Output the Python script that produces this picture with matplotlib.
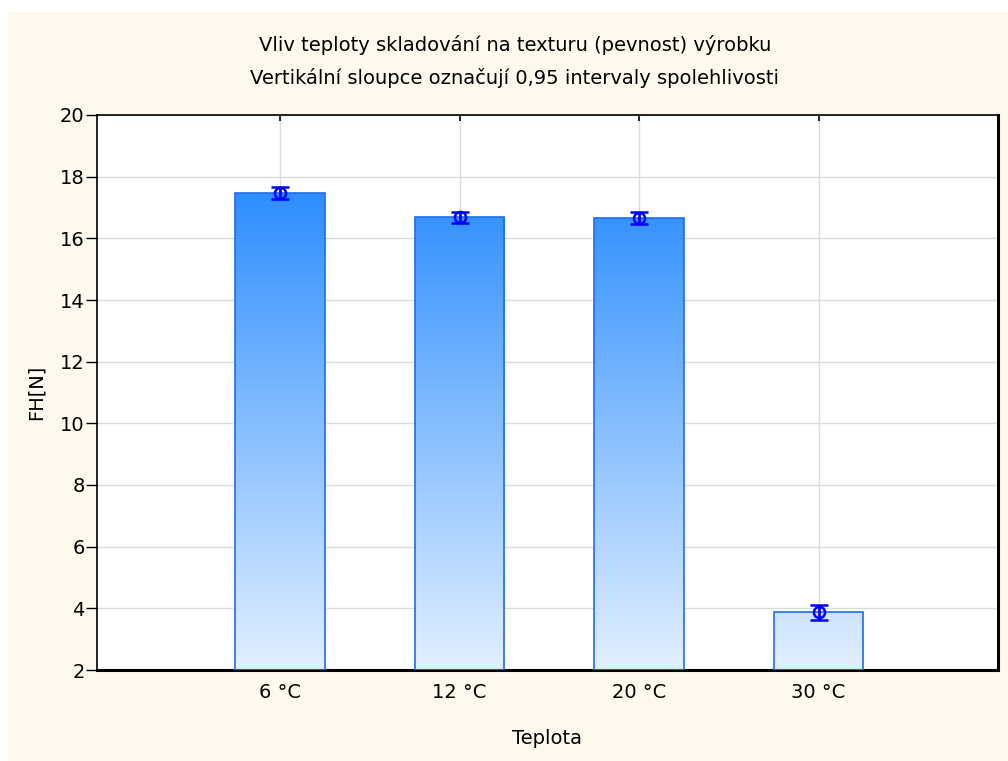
import numpy as np
import matplotlib.pyplot as plt
from matplotlib.patches import Rectangle
from matplotlib.colors import LinearSegmentedColormap

plt.rcParams['font.family'] = ['DejaVu Sans']

# mean FH per storage temperature, with 0.95 confidence half-widths
categories = ['6 °C', '12 °C', '20 °C', '30 °C']
means = [17.46, 16.68, 16.67, 3.87]
ci = [0.20, 0.19, 0.19, 0.24]
yticks = [2, 4, 6, 8, 10, 12, 14, 16, 18, 20]

fig = plt.figure(figsize=(10.08, 7.61), dpi=100)
fig.patch.set_facecolor('white')
fig.add_artist(Rectangle((8 / 1008, 0), 1, 749 / 761, transform=fig.transFigure,
                         facecolor='#fef9ee', edgecolor='none', zorder=-10))

ax = fig.add_axes([97 / 1008, 91 / 761, 901 / 1008, 555 / 761])
ax.set_facecolor('white')

x = np.arange(len(categories))
bars = ax.bar(x, np.array(means) - 2, bottom=2, width=0.5, facecolor='none',
              edgecolor='#1f6ee6', linewidth=1.2, zorder=3)

# vertical blue gradient, fixed to the y scale so short bars stay pale
cmap = LinearSegmentedColormap.from_list('fh', ['#e2effe', '#2a8cff'])
grad = np.linspace(0, 1, 256).reshape(-1, 1)
for bar in bars:
    bx = bar.get_x()
    bw = bar.get_width()
    img = ax.imshow(grad, cmap=cmap, vmin=0, vmax=1.0, origin='lower', aspect='auto',
                    extent=(bx, bx + bw, 2, 17.8), zorder=2, interpolation='bilinear')
    img.set_clip_path(bar)
ax.set_xlim(-1.02, 4.0)
ax.set_ylim(2, 20)

ax.errorbar(x, means, yerr=ci, fmt='o', mfc='none', mec='#0000ff', mew=1.8, ms=8,
            ecolor='#0000ff', elinewidth=2, capsize=6.5, capthick=2, zorder=5)

ax.set_xticks(x)
ax.set_xticklabels(categories, fontsize=14)
ax.set_yticks(yticks)
ax.set_yticklabels([str(v) for v in yticks], fontsize=14)
ax.tick_params(axis='x', direction='in', length=4, width=1.2, top=True, pad=9)
ax.tick_params(axis='y', direction='out', length=8, width=1, pad=1)
ax.grid(True, color='#dcdcdc', linewidth=1)
ax.set_axisbelow(True)

for side in ['top', 'left']:
    ax.spines[side].set_linewidth(1.2)
for side in ['right', 'bottom']:
    ax.spines[side].set_linewidth(2.2)

ax.set_xlabel('Teplota', fontsize=14, labelpad=20)
ax.set_ylabel('FH[N]', fontsize=14, labelpad=10)

fig.text(515 / 1008, 1 - 45 / 761, 'Vliv teploty skladování na texturu (pevnost) výrobku',
         ha='center', va='center', fontsize=14)
fig.text(515 / 1008, 1 - 78 / 761, 'Vertikální sloupce označují 0,95 intervaly spolehlivosti',
         ha='center', va='center', fontsize=14)

fig.savefig('out.png', dpi=100, facecolor=fig.get_facecolor())
